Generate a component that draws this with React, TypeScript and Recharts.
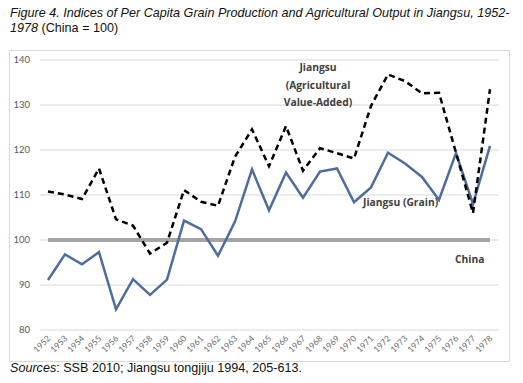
import React from 'react';
import { LineChart, Line, XAxis, YAxis, CartesianGrid } from 'recharts';

const years = ['1952','1953','1954','1955','1956','1957','1958','1959','1960','1961','1962','1963','1964','1965','1966','1967','1968','1969','1970','1971','1972','1973','1974','1975','1976','1977','1978'];
const grain = [91.1,96.8,94.6,97.3,84.6,91.3,87.8,91.2,104.3,102.4,96.5,104.1,115.7,106.6,115.0,109.4,115.2,115.9,108.4,111.7,119.4,117.0,114.0,108.9,119.3,108.0,120.9];
const agri = [110.8,110.1,109.1,115.9,104.6,103.2,97.0,99.4,111.1,108.5,107.6,118.5,124.6,116.4,125.3,115.4,120.4,119.3,118.1,129.8,136.8,135.3,132.6,132.7,119.4,106.0,133.5];
const china = years.map(() => 100);
const yTicks = [80, 90, 100, 110, 120, 130, 140];

const data = years.map((y, i) => ({ year: y, grain: grain[i], agri: agri[i], china: china[i] }));

const XTick = (props: any) => {
  const { x, payload } = props;
  const ax = x + 3;
  const ay = 339;
  return (
    <text x={ax} y={ay} transform={`rotate(-45 ${ax} ${ay})`} textAnchor="end" fontSize={8.5} fill="#6a6a6a" fontFamily="Lato, 'Open Sans', sans-serif">
      {payload.value}
    </text>
  );
};

const labelStyle: React.CSSProperties = {
  position: 'absolute',
  fontFamily: "'Open Sans', Lato, sans-serif",
  fontWeight: 700,
  fontSize: 10.3,
  color: '#404040',
  textAlign: 'center',
  lineHeight: '17.5px',
  whiteSpace: 'nowrap',
};

export default function App() {
  return (
    <div style={{ position: 'absolute', left: 0, top: 0, width: 523, height: 383, background: '#fff', fontFamily: "'Liberation Sans', Arial, sans-serif" }}>
      <div style={{ position: 'absolute', left: 10, top: 6, fontSize: 12.6, lineHeight: '15px', color: '#111', whiteSpace: 'nowrap' }}>
        <i>Figure 4. Indices of Per Capita Grain Production and Agricultural Output in Jiangsu, 1952-</i>
        <br />
        <i>1978</i> (China = 100)
      </div>
      <div style={{ position: 'absolute', left: 9, top: 50, width: 501, height: 312, border: '1px solid #d9d9d9', boxSizing: 'border-box' }} />
      <div style={{ position: 'absolute', left: 0, top: 0 }}>
        <LineChart width={523} height={383} data={data} margin={{ top: 60, right: 24, left: 10, bottom: 13 }}>
          <CartesianGrid vertical={false} stroke="#d9d9d9" strokeWidth={1} />
          <XAxis dataKey="year" height={40} axisLine={false} tickLine={false} interval={0} padding={{ left: 8, right: 9 }} tick={<XTick />} />
          <YAxis width={30} domain={[80, 140]} ticks={yTicks} axisLine={false} tickLine={false} tickMargin={4} tick={{ fontSize: 9.5, fill: '#595959', fontFamily: "Lato, 'Open Sans', sans-serif" }} />
          <Line dataKey="china" stroke="#a5a5a5" strokeWidth={4} dot={false} isAnimationActive={false} />
          <Line dataKey="grain" stroke="#4e6d9c" strokeWidth={2.5} dot={false} isAnimationActive={false} />
          <Line dataKey="agri" stroke="#000" strokeWidth={2.5} strokeDasharray="6 4" dot={false} isAnimationActive={false} />
        </LineChart>
      </div>
      <div style={{ ...labelStyle, left: 258, top: 59, width: 120 }}>
        Jiangsu<br />(Agricultural<br />Value-Added)
      </div>
      <div style={{ ...labelStyle, left: 363, top: 194 }}>Jiangsu (Grain)</div>
      <div style={{ ...labelStyle, left: 455, top: 251 }}>China</div>
      <div style={{ position: 'absolute', left: 10, top: 361, fontSize: 12.6, lineHeight: '15px', color: '#111', whiteSpace: 'nowrap' }}>
        <i>Sources</i>: SSB 2010; Jiangsu tongjiju 1994, 205-613.
      </div>
    </div>
  );
}
